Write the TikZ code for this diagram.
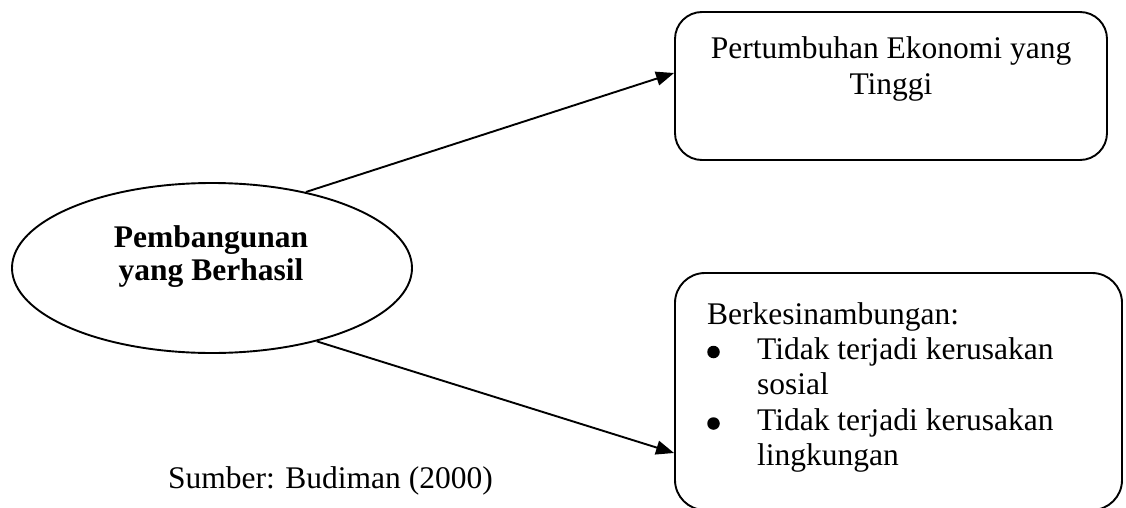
\documentclass[tikz,border=0pt]{standalone}
\usepackage{fontspec}
\setmainfont{Liberation Serif}
\usetikzlibrary{shapes.geometric,arrows.meta}
\newcommand\mysize{\fontsize{31.5}{35.5}\selectfont}
\begin{document}
\begin{tikzpicture}[x=1pt,y=-1pt,
  box/.style={draw, line width=1.9pt, rounded corners=27pt, inner sep=0pt},
  oval/.style={draw, ellipse, line width=1.9pt, inner sep=0pt},
  txt/.style={inner sep=0pt, anchor=base west, font=\mysize},
  ctxt/.style={inner sep=0pt, anchor=base, font=\mysize},
  btxt/.style={inner sep=0pt, anchor=base, font=\mysize\bfseries},
  dot/.style={circle, fill, inner sep=0pt, minimum size=12.5pt},
  link/.style={line width=1.9pt, -{Triangle[length=18pt,width=14pt]}}]
\useasboundingbox (0,0) rectangle (1126,508);

% boxes
\node[box, minimum width=432pt, minimum height=148pt] (top) at (891,86) {};
\node[box, rounded corners=30pt, minimum width=447pt, minimum height=237pt] (bot) at (898.5,391.5) {};
\node[oval, minimum width=400pt, minimum height=170pt] (ell) at (212,268) {};

% texts
\node[ctxt] (t1a) at (891,59) {Pertumbuhan Ekonomi yang};
\node[ctxt] (t1b) at (891,95) {Tinggi};

\node[btxt] (e1) at (211,247) {Pembangunan};
\node[btxt] (e2) at (211,280) {yang Berhasil};

\node[txt] (b0) at (707,324) {Berkesinambungan:};
\node[dot] (bu1) at (713.5,352) {};
\node[txt] (b1) at (757,359) {Tidak terjadi kerusakan};
\node[txt] (b2) at (757,394) {sosial};
\node[dot] (bu2) at (713.5,423.5) {};
\node[txt] (b3) at (757,430) {Tidak terjadi kerusakan};
\node[txt] (b4) at (757,465) {lingkungan};

\node[txt] (src) at (168,488) {Sumber: Budiman (2000)};

% connectors
\coordinate (p1) at (top.west |- 0,73);
\coordinate (p2) at (bot.west |- 0,453);
\draw[link] (ell.39) -- (p1);
\draw[link] (ell.-35) -- (p2);
\end{tikzpicture}
\end{document}
